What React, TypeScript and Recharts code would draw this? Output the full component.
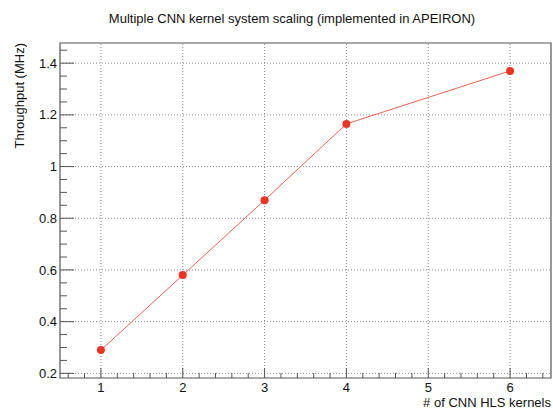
import React from 'react';
import { LineChart, Line, XAxis, YAxis, ReferenceLine, ReferenceArea } from 'recharts';

const kernels = [1, 2, 3, 4, 6];
const throughput = [0.29, 0.58, 0.87, 1.165, 1.37];
const xMajorTicks = [1, 2, 3, 4, 5, 6];
const yMajorTicks = [0.2, 0.4, 0.6, 0.8, 1, 1.2, 1.4];
const xDomain = [0.5, 6.5];
const yDomain = [0.182, 1.478];

const title = 'Multiple CNN kernel system scaling (implemented in APEIRON)';
const xTitle = '# of CNN HLS kernels';
const yTitle = 'Throughput (MHz)';

const data = kernels.map((k, i) => ({ x: k, y: throughput[i] }));

const xTicks: number[] = [];
for (let k = 0; k < 30; k++) xTicks.push(Math.round((0.6 + 0.2 * k) * 10) / 10);
const yTicks: number[] = [];
for (let k = 0; k < 26; k++) yTicks.push(Math.round((0.2 + 0.05 * k) * 100) / 100);

const FONT = '"Liberation Sans", Arial, Helvetica, sans-serif';
const AXIS = '#555';
const GRID = '#8a8a8a';
const RED = '#ee3322';
const LINE = '#f0604f';

const isMajor = (v: number, majors: number[]) => majors.some((m) => Math.abs(m - v) < 1e-6);

const renderXTick = (props: any) => {
  const { x, y, payload } = props;
  const v = payload.value;
  const major = isMajor(v, xMajorTicks);
  return (
    <g key={'xt' + v}>
      <line x1={x} x2={x} y1={y} y2={y - (major ? 10 : 5)} stroke={AXIS} strokeWidth={1} />
      {major && (
        <text x={x} y={y + 14} textAnchor="middle" fontSize={13} fontFamily={FONT} fill="#111">
          {String(v)}
        </text>
      )}
    </g>
  );
};

const renderYTick = (props: any) => {
  const { x, y, payload } = props;
  const v = payload.value;
  const major = isMajor(v, yMajorTicks);
  return (
    <g key={'yt' + v}>
      <line x1={x} x2={x + (major ? 14 : 7)} y1={y} y2={y} stroke={AXIS} strokeWidth={1} />
      {major && (
        <text x={x - 3} y={y} dy="0.35em" textAnchor="end" fontSize={13} fontFamily={FONT} fill="#111">
          {String(v)}
        </text>
      )}
    </g>
  );
};

const textStyle: React.CSSProperties = {
  fontFamily: FONT,
  fontSize: 13,
  lineHeight: '15px',
  color: '#111',
  whiteSpace: 'nowrap',
};

export default function App() {
  return (
    <div style={{ position: 'absolute', left: 0, top: 0, width: 553, height: 409, background: '#fff' }}>
      <div style={{ ...textStyle, position: 'absolute', left: 0, width: 584, top: 11, textAlign: 'center' }}>
        {title}
      </div>
      <div style={{ ...textStyle, position: 'absolute', left: 0, top: 395, width: 551, textAlign: 'right' }}>
        {xTitle}
      </div>
      <div
        style={{
          ...textStyle,
          position: 'absolute',
          left: 12,
          top: 43,
          width: 15,
          writingMode: 'vertical-rl',
          transform: 'rotate(180deg)',
        }}
      >
        {yTitle}
      </div>
      <LineChart width={553} height={409} data={data} margin={{ top: 43, right: 2, bottom: 0, left: 0 }}>
        <XAxis
          dataKey="x"
          type="number"
          domain={xDomain}
          ticks={xTicks}
          interval={0}
          height={31}
          tickSize={0}
          tickMargin={0}
          tick={renderXTick}
          axisLine={false}
          tickLine={false}
          allowDataOverflow
        />
        <YAxis
          dataKey="y"
          type="number"
          domain={yDomain}
          ticks={yTicks}
          interval={0}
          width={60}
          tickSize={0}
          tickMargin={0}
          tick={renderYTick}
          axisLine={false}
          tickLine={false}
          allowDataOverflow
        />
        {yMajorTicks.map((v) => (
          <ReferenceLine key={'h' + v} y={v} stroke={GRID} strokeDasharray="1 2" strokeWidth={1} />
        ))}
        {xMajorTicks.map((v) => (
          <ReferenceLine key={'v' + v} x={v} stroke={GRID} strokeDasharray="1 2" strokeWidth={1} />
        ))}
        <ReferenceArea
          x1={xDomain[0]}
          x2={xDomain[1]}
          y1={yDomain[0]}
          y2={yDomain[1]}
          fill="none"
          fillOpacity={0}
          stroke={AXIS}
          strokeWidth={1.2}
        />
        <Line
          dataKey="y"
          stroke={LINE}
          strokeWidth={1}
          isAnimationActive={false}
          dot={{ r: 4, fill: RED, stroke: RED, strokeWidth: 0 }}
        />
      </LineChart>
    </div>
  );
}
